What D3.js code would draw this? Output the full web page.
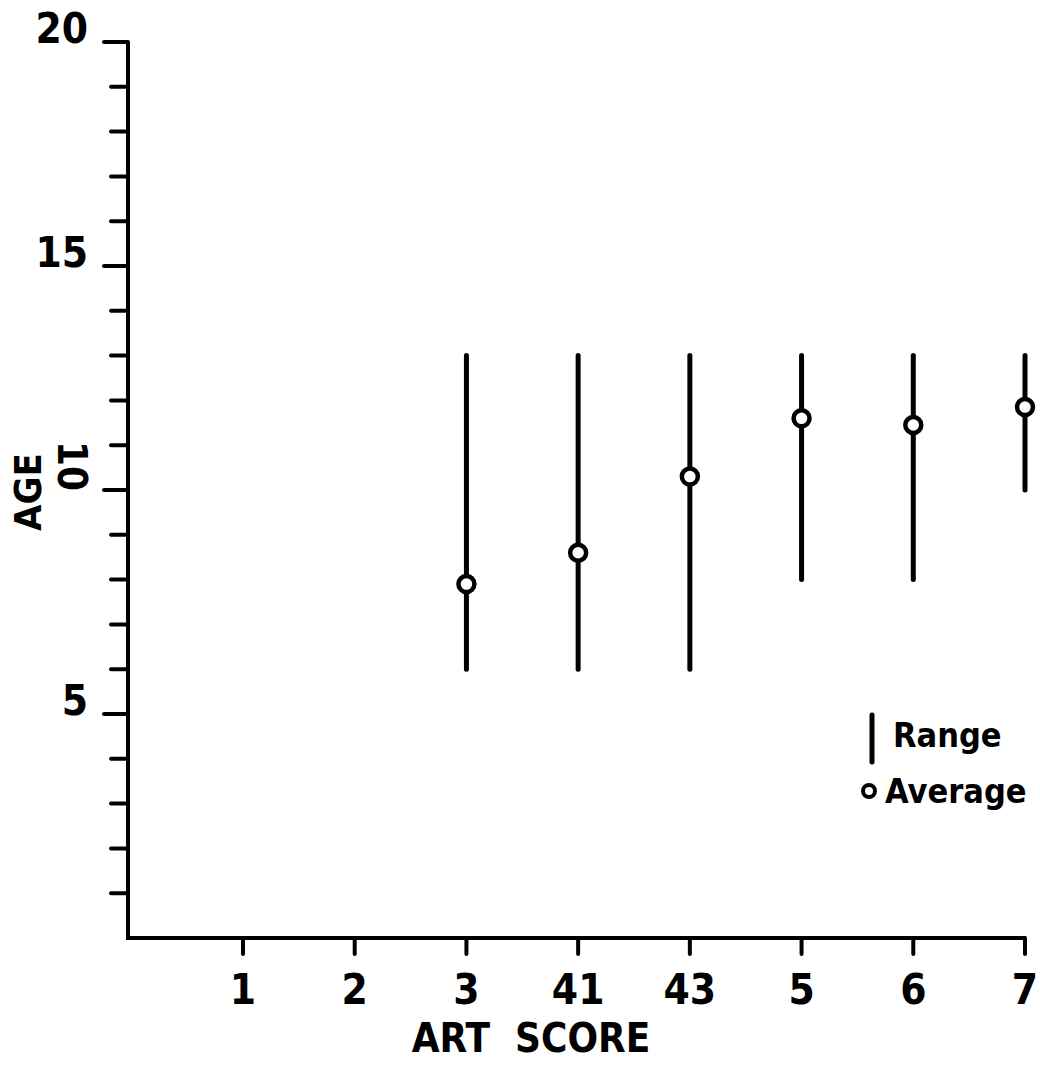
<!DOCTYPE html>
<html>
<head>
<meta charset="utf-8">
<script src="https://cdn.jsdelivr.net/npm/d3@7"></script>
<style>
  html, body { margin: 0; padding: 0; background: #fff; }
  svg { display: block; }
  text { font-family: "DejaVu Sans Condensed", "Liberation Sans Narrow", "DejaVu Sans", sans-serif; font-weight: bold; fill: #000; }
</style>
</head>
<body>
<script>
// ---- data ----
const categories = ["1", "2", "3", "41", "43", "5", "6", "7"];
const rangeCats  = ["3", "41", "43", "5", "6", "7"];
const rangeLow   = [6, 6, 6, 8, 8, 10];
const rangeHigh  = [13, 13, 13, 13, 13, 13];
const averages   = [7.9, 8.6, 10.3, 11.6, 11.45, 11.85];
const yMajorTicks = [5, 10, 15, 20];
const yTickLabels = ["5", "10", "15", "20"];
const xTitle = "ART  SCORE";
const yTitle = "AGE";
const legendLabels = ["Range", "Average"];

const W = 1040, H = 1065;
const svg = d3.select("body").append("svg").attr("width", W).attr("height", H);

const axisLeft = 128, axisBottom = 938, axisTop = 42;
const x = d3.scalePoint().domain(categories).range([243, 1025]);
const y = d3.scaleLinear().domain([0, 20]).range([axisBottom, axisTop]);

// ---- Y axis ----
const gy = svg.append("g");
gy.append("line").attr("x1", axisLeft).attr("x2", axisLeft)
  .attr("y1", y(0) + 2).attr("y2", y(20))
  .attr("stroke", "#000").attr("stroke-width", 4);
d3.range(1, 21).forEach(v => {
  const major = v % 5 === 0;
  gy.append("line")
    .attr("x1", major ? axisLeft - 24 : axisLeft - 17).attr("x2", axisLeft)
    .attr("y1", y(v)).attr("y2", y(v))
    .attr("stroke", "#000").attr("stroke-width", 4).attr("stroke-linecap", "round");
});
yMajorTicks.forEach((v, i) => {
  const lab = yTickLabels[i];
  if (lab === "10") {
    gy.append("text")
      .attr("transform", `translate(58,${y(v) + 1}) rotate(90)`)
      .attr("text-anchor", "end")
      .attr("font-size", 40)
      .text(lab);
  } else {
    gy.append("text")
      .attr("x", 88).attr("y", y(v) + 1)
      .attr("text-anchor", "end")
      .attr("font-size", 42)
      .text(lab);
  }
});
svg.append("text")
  .attr("transform", `translate(41,${492}) rotate(-90)`)
  .attr("text-anchor", "middle")
  .attr("font-size", 38)
  .text(yTitle);

// ---- X axis ----
const gx = svg.append("g");
gx.append("line").attr("x1", axisLeft - 2).attr("x2", x("7") + 1)
  .attr("y1", axisBottom).attr("y2", axisBottom)
  .attr("stroke", "#000").attr("stroke-width", 4);
categories.forEach(c => {
  gx.append("line")
    .attr("x1", x(c)).attr("x2", x(c))
    .attr("y1", axisBottom).attr("y2", axisBottom + 16)
    .attr("stroke", "#000").attr("stroke-width", 4).attr("stroke-linecap", "round");
  gx.append("text")
    .attr("x", x(c)).attr("y", 1004)
    .attr("text-anchor", "middle")
    .attr("font-size", 42)
    .text(c);
});
svg.append("text")
  .attr("x", 531).attr("y", 1052)
  .attr("text-anchor", "middle")
  .attr("font-size", 40)
  .attr("xml:space", "preserve")
  .style("white-space", "pre")
  .text(xTitle);

// ---- Range bars & averages ----
const marks = svg.append("g");
rangeCats.forEach((c, i) => {
  marks.append("line")
    .attr("x1", x(c)).attr("x2", x(c))
    .attr("y1", y(rangeLow[i])).attr("y2", y(rangeHigh[i]))
    .attr("stroke", "#000").attr("stroke-width", 5).attr("stroke-linecap", "round");
});
rangeCats.forEach((c, i) => {
  marks.append("circle")
    .attr("cx", x(c)).attr("cy", y(averages[i])).attr("r", 8)
    .attr("fill", "#fff").attr("stroke", "#000").attr("stroke-width", 4.5);
});

// ---- Legend ----
const lg = svg.append("g");
lg.append("line").attr("x1", 872).attr("x2", 872).attr("y1", 715).attr("y2", 762)
  .attr("stroke", "#000").attr("stroke-width", 5).attr("stroke-linecap", "round");
lg.append("text").attr("x", 893).attr("y", 747).attr("font-size", 34).text(legendLabels[0]);
lg.append("circle").attr("cx", 869).attr("cy", 791).attr("r", 6)
  .attr("fill", "#fff").attr("stroke", "#000").attr("stroke-width", 4);
lg.append("text").attr("x", 885).attr("y", 803).attr("font-size", 34).text(legendLabels[1]);
</script>
</body>
</html>
